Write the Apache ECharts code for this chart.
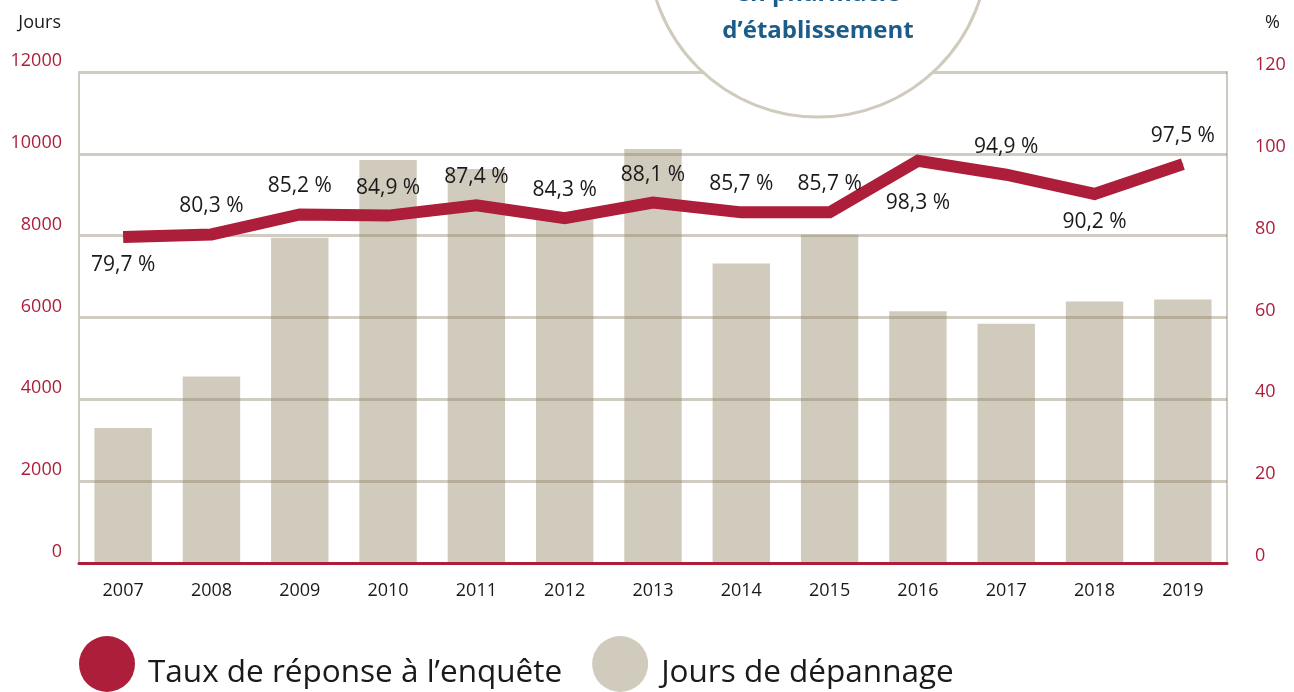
<!DOCTYPE html>
<html>
<head>
<meta charset="utf-8">
<script src="https://cdn.jsdelivr.net/npm/echarts@6/dist/echarts.min.js"></script>
<style>
html, body { margin: 0; padding: 0; background: #fff; }
#chart { width: 1294px; height: 692px; }
</style>
</head>
<body>
<div id="chart"></div>
<script>
var years = ['2007', '2008', '2009', '2010', '2011', '2012', '2013', '2014', '2015', '2016', '2017', '2018', '2019'];
var joursDepannage = [3300, 4560, 7950, 9850, 9630, 8450, 10120, 7320, 8020, 6150, 5850, 6390, 6440];
var tauxReponse = [79.7, 80.3, 85.2, 84.9, 87.4, 84.3, 88.1, 85.7, 85.7, 98.3, 94.9, 90.2, 97.5];
var joursTicks = [0, 2000, 4000, 6000, 8000, 10000, 12000];
var pctTicks = [0, 20, 40, 60, 80, 100, 120];
// labels drawn under the line for these points
var labelsBelow = [0, 9, 11];
// extra nudge for crowded labels
var labelNudge = { 9: [0, 14] };

var red = '#ac1e39';
var beige = '#d1cbbe';
var font = 'Open Sans';

var chart = echarts.init(document.getElementById('chart'));

var lineData = tauxReponse.map(function (v, i) {
	return {
		value: v,
		label: {
			position: labelsBelow.indexOf(i) >= 0 ? 'bottom' : 'top',
			offset: labelNudge[i] || [0, 0]
		}
	};
});

var option = {
	animation: false,
	backgroundColor: '#fff',
	textStyle: { fontFamily: font },
	grid: {
		left: 79,
		right: 67,
		top: 72,
		bottom: 129
	},
	legend: {
		left: 74,
		top: 631,
		itemWidth: 56,
		itemHeight: 56,
		itemGap: 30,
		icon: 'circle',
		data: ['Taux de réponse à l’enquête', 'Jours de dépannage'],
		formatter: '{t|{name}}',
		textStyle: {
			fontFamily: font,
			fontSize: 31.5,
			color: '#1a1a1a',
			padding: [0, 0, 0, 8],
			rich: {
				t: {
					fontFamily: font,
					fontSize: 31.5,
					color: '#1a1a1a',
					padding: [18, 0, 0, 0]
				}
			}
		}
	},
	xAxis: [{
		type: 'category',
		data: years,
		boundaryGap: true,
		z: 4,
		axisLine: { lineStyle: { color: red, width: 3 } },
		axisTick: { show: false },
		axisLabel: { color: '#1a1a1a', fontSize: 18, margin: 19, fontFamily: font }
	}],
	yAxis: [{
		type: 'value',
		min: joursTicks[0],
		max: joursTicks[joursTicks.length - 1],
		interval: 2000,
		z: 3,
		name: 'Jours',
		nameLocation: 'end',
		nameGap: 40,
		nameTextStyle: { color: '#1a1a1a', fontSize: 18, align: 'right', padding: [0, 18, 0, 0], fontFamily: font },
		axisLine: { show: true, lineStyle: { color: '#cfcac0', width: 2 } },
		axisTick: { show: false },
		axisLabel: {
			color: red, fontSize: 18, margin: 17, fontFamily: font,
			verticalAlign: 'bottom', lineHeight: 22,
			formatter: function (v) { return String(v); }
		},
		splitLine: { lineStyle: { color: 'rgba(140,128,100,0.4)', width: 3 } }
	}, {
		type: 'value',
		min: pctTicks[0],
		max: pctTicks[pctTicks.length - 1],
		interval: 20,
		name: '%',
		nameLocation: 'end',
		nameGap: 40,
		nameTextStyle: { color: '#1a1a1a', fontSize: 18, align: 'left', padding: [0, 0, 0, 38], fontFamily: font },
		axisLine: { show: true, lineStyle: { color: '#cfcac0', width: 2 } },
		axisTick: { show: false },
		axisLabel: {
			color: red, fontSize: 18, margin: 28, fontFamily: font,
			verticalAlign: 'bottom', lineHeight: 14
		},
		splitLine: { show: false }
	}],
	series: [{
		name: 'Jours de dépannage',
		type: 'bar',
		yAxisIndex: 0,
		barCategoryGap: '35%',
		itemStyle: { color: beige },
		z: 2,
		data: joursDepannage
	}, {
		name: 'Taux de réponse à l’enquête',
		type: 'line',
		yAxisIndex: 1,
		z: 5,
		symbol: 'circle',
		symbolSize: 1,
		showSymbol: true,
		lineStyle: { color: red, width: 12, join: 'miter' },
		itemStyle: { color: red },
		label: {
			show: true,
			distance: 17,
			color: '#1a1a1a',
			fontSize: 21,
			fontFamily: font,
			formatter: function (p) {
				return p.value.toFixed(1).replace('.', ',') + ' %';
			}
		},
		data: lineData
	}],
	graphic: [{
		type: 'circle',
		z: 10,
		shape: { cx: 818, cy: -53, r: 170 },
		style: { fill: '#fff', stroke: '#d1cbbe', lineWidth: 3 }
	}, {
		type: 'text',
		z: 11,
		x: 818,
		y: -6,
		style: {
			text: 'en pharmacie',
			fill: '#1b5c88',
			font: 'bold 24px "Open Sans"',
			align: 'center',
			verticalAlign: 'middle'
		}
	}, {
		type: 'text',
		z: 11,
		x: 818,
		y: 31,
		style: {
			text: 'd’établissement',
			fill: '#1b5c88',
			font: 'bold 24px "Open Sans"',
			align: 'center',
			verticalAlign: 'middle'
		}
	}]
};
chart.setOption(option);
</script>
</body>
</html>
